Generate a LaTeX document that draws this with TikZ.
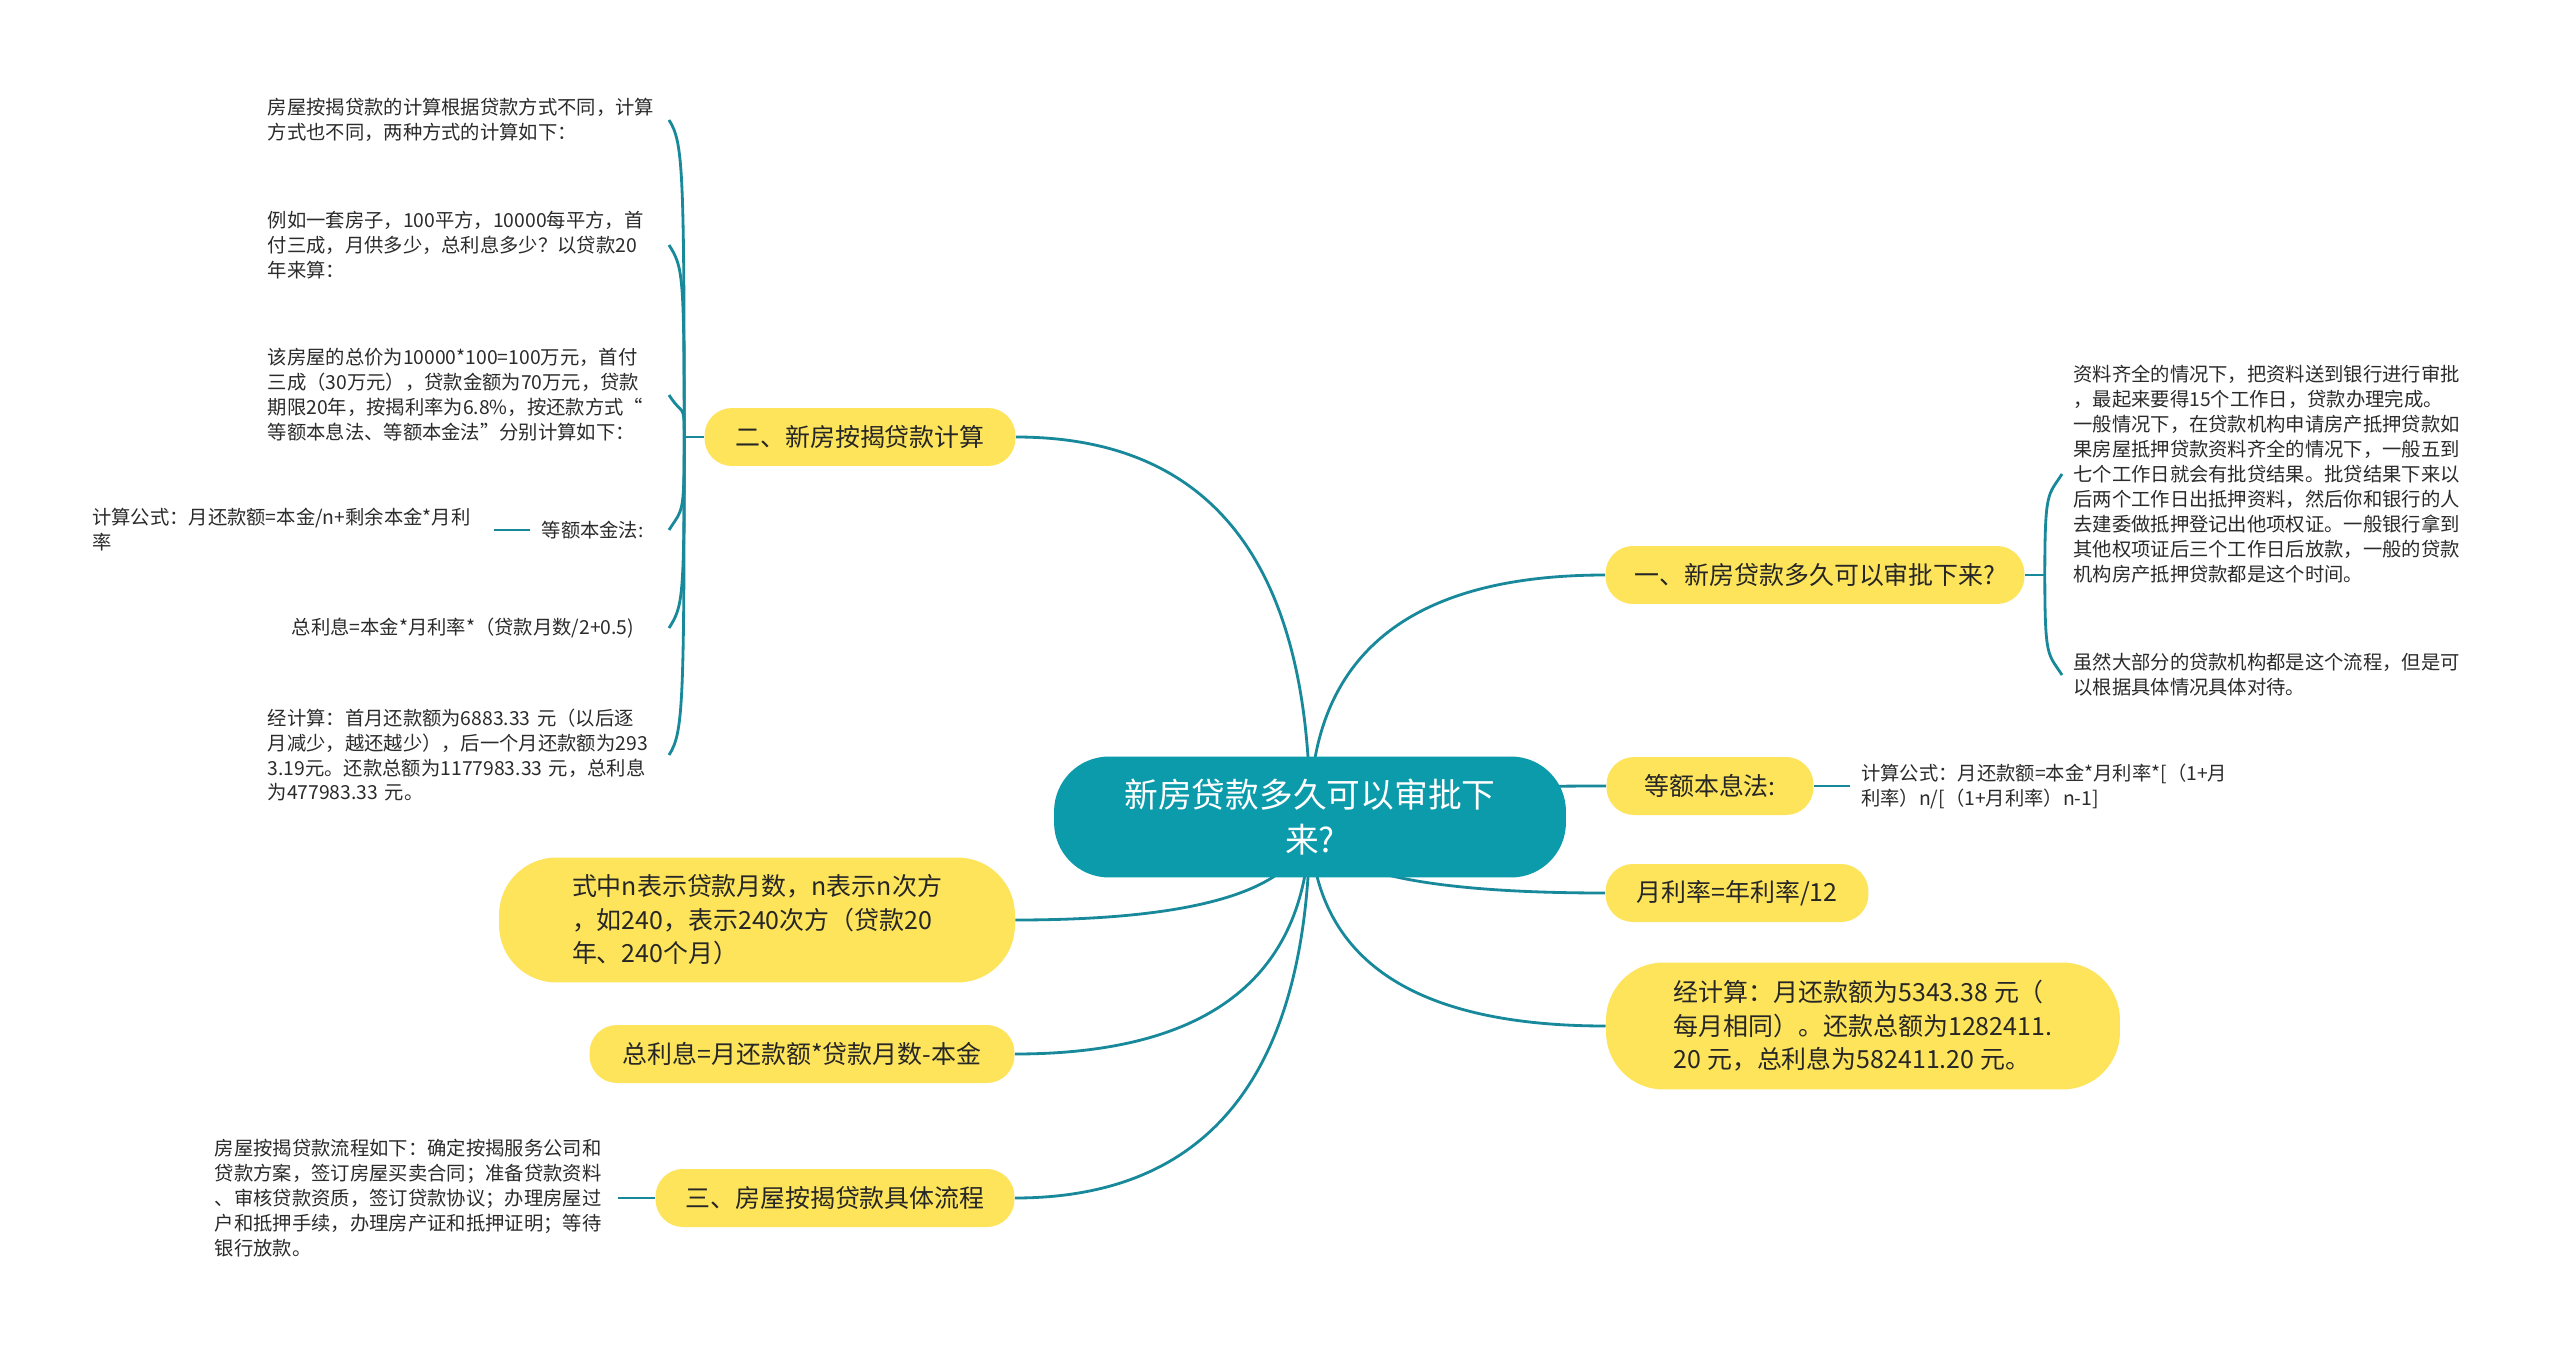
\documentclass[tikz,border=0pt]{standalone}
\usepackage{fontspec}
\setmainfont{Noto Sans CJK SC}
\usepackage{xcolor}
\usetikzlibrary{positioning,calc,backgrounds}
\definecolor{MapTeal}{HTML}{0B9BAB}
\definecolor{MapLink}{HTML}{17899A}
\definecolor{MapYellow}{HTML}{FDE45B}
\definecolor{MapText}{HTML}{262626}
\definecolor{MapGrey}{HTML}{2B2B2B}
\newcommand\rootfont{\fontsize{19.2}{25.6}\selectfont}
\newcommand\topicfont{\fontsize{14.2}{19}\selectfont}
\newcommand\leaffont{\fontsize{11}{14.2}\selectfont}
\tikzset{
  rootbox/.style={rounded corners=1.1cm, fill=MapTeal, text=white, align=center, font=\rootfont, minimum height=2.42cm, inner sep=0pt},
  topicbox/.style={rounded corners=0.55cm, fill=MapYellow, text=MapText, align=center, font=\topicfont, minimum height=1.16cm, inner sep=0pt},
  bigtopic/.style={topicbox, rounded corners=1.15cm, align=left, minimum height=2.5cm},
  leaf/.style={align=left, font=\leaffont, text=MapGrey, inner xsep=0.22cm, inner ysep=2pt},
  maplink/.style={draw=MapLink, line width=1.6pt}
}

\begin{document}
\begin{tikzpicture}[x=0.02cm, y=0.02cm]
\useasboundingbox (0,0) rectangle (2560,-1355);

% centre and main topics
\node[rootbox, minimum width=10.24cm] (root) at (1310,-817) {新房贷款多久可以审批下\\来?};
\node[topicbox, minimum width=6.22cm] (n2) at (860,-437) {二、新房按揭贷款计算};
\node[topicbox, minimum width=8.38cm] (n1) at (1815,-575) {一、新房贷款多久可以审批下来?};
\node[topicbox, minimum width=4.14cm] (nA) at (1710,-786) {等额本息法:};
\node[topicbox, minimum width=5.26cm] (nB) at (1737,-893) {月利率=年利率/12};
\node[bigtopic, minimum width=10.28cm, minimum height=2.54cm] (nC) at (1863,-1026) {经计算：月还款额为5343.38~元（\\每月相同）。还款总额为1282411.\\20~元，总利息为582411.20~元。};
\node[bigtopic, minimum width=10.32cm] (nD) at (757,-920) {式中n表示贷款月数，n表示n次方\\，如240，表示240次方（贷款20\\年、240个月）};
\node[topicbox, minimum width=8.5cm] (nE) at (802,-1054) {总利息=月还款额*贷款月数-本金};
\node[topicbox, minimum width=7.18cm] (n3) at (835,-1198) {三、房屋按揭贷款具体流程};

% leaves of 二
\node[leaf, text width=7.8cm, anchor=east] (l1) at (669,-120) {房屋按揭贷款的计算根据贷款方式不同，计算\\方式也不同，两种方式的计算如下：};
\node[leaf, text width=7.8cm, anchor=east] (l2) at (669,-245) {例如一套房子，100平方，10000每平方，首\\付三成，月供多少，总利息多少？以贷款20\\年来算：};
\node[leaf, text width=7.8cm, anchor=east] (l3) at (669,-395) {该房屋的总价为10000*100=100万元，首付\\三成（30万元），贷款金额为70万元，贷款\\期限20年，按揭利率为6.8\%，按还款方式“\\等额本息法、等额本金法”分别计算如下：};
\node[leaf, text width=2.32cm, anchor=east] (l4) at (669,-530) {等额本金法:};
\node[leaf, text width=7.82cm, left=0.72cm of l4] (l4a) {计算公式：月还款额=本金/n+剩余本金*月利\\率};
\node[leaf, text width=7.32cm, anchor=east] (l5) at (669,-628) {总利息=本金*月利率*（贷款月数/2+0.5)};
\node[leaf, text width=7.8cm, anchor=east] (l6) at (669,-755) {经计算：首月还款额为6883.33~元（以后逐\\月减少，越还越少），后一个月还款额为293\\3.19元。还款总额为1177983.33~元，总利息\\为477983.33~元。};

% leaves of 一
\node[leaf, text width=7.9cm, anchor=west] (r1) at (2062,-474) {资料齐全的情况下，把资料送到银行进行审批\\，最起来要得15个工作日，贷款办理完成。\\一般情况下，在贷款机构申请房产抵押贷款如\\果房屋抵押贷款资料齐全的情况下，一般五到\\七个工作日就会有批贷结果。批贷结果下来以\\后两个工作日出抵押资料，然后你和银行的人\\去建委做抵押登记出他项权证。一般银行拿到\\其他权项证后三个工作日后放款，一般的贷款\\机构房产抵押贷款都是这个时间。};
\node[leaf, text width=7.9cm, anchor=west] (r2) at (2062,-675) {虽然大部分的贷款机构都是这个流程，但是可\\以根据具体情况具体对待。};

% other leaves
\node[leaf, right=0.72cm of nA] (ra) {计算公式：月还款额=本金*月利率*[（1+月\\利率）n/[（1+月利率）n-1]};
\node[leaf, text width=7.84cm, left=0.74cm of n3] (l7) {房屋按揭贷款流程如下：确定按揭服务公司和\\贷款方案，签订房屋买卖合同；准备贷款资料\\、审核贷款资质，签订贷款协议；办理房屋过\\户和抵押手续，办理房产证和抵押证明；等待\\银行放款。};

\begin{scope}[on background layer]
\fill[white] (0,0) rectangle (2560,-1355);
% links from the centre
\foreach \nd/\side in {n2/east, n1/west, nA/west, nB/west, nC/west, nD/east, nE/east, n3/east}
  \draw[maplink] (root.center) .. controls ($(root.center)!.667!(root.center |- \nd.\side)$) and ($(\nd.\side)!.667!(root.center |- \nd.\side)$) .. (\nd.\side);
\end{scope}

% brace of 二
\coordinate (t2) at ($(n2.west)+(-20,0)$);
\draw[maplink] (n2.west) -- (t2);
\foreach \nd/\s in {l1/-1, l2/-1, l3/-1, l4/1, l5/1, l6/1}
  \draw[maplink] (t2) .. controls ($(t2)!.85!(t2 |- \nd.east)$) and ($(\nd.east)+(14,22*\s)$) .. (\nd.east);

% brace of 一
\coordinate (t1) at ($(n1.east)+(20,0)$);
\draw[maplink] (n1.east) -- (t1);
\foreach \nd/\s in {r1/-1, r2/1}
  \draw[maplink] (t1) .. controls ($(t1)!.85!(t1 |- \nd.west)$) and ($(\nd.west)+(-14,22*\s)$) .. (\nd.west);

% short links
\draw[maplink] (nA.east) -- (ra.west);
\draw[maplink] (l4.west) -- (l4a.east);
\draw[maplink] (n3.west) -- (l7.east);
\end{tikzpicture}
\end{document}
